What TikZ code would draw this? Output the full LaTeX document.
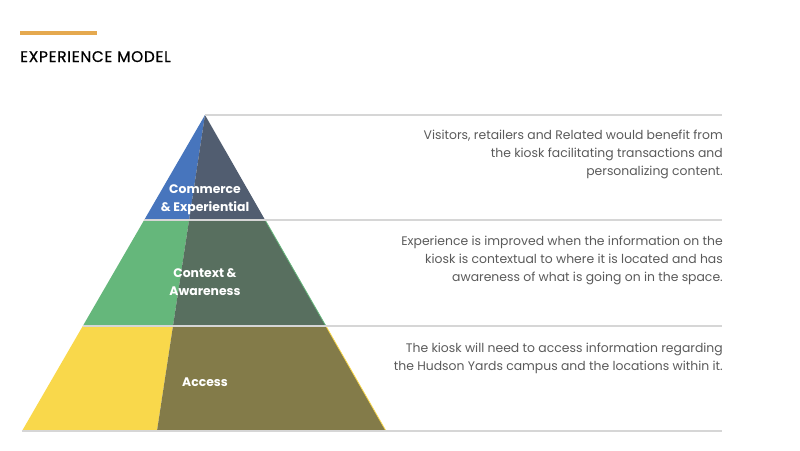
\documentclass[tikz,border=0pt]{standalone}
\usepackage{fontspec}
\setmainfont{Poppins}
\definecolor{barorange}{HTML}{E5A94F}
\definecolor{lblue}{HTML}{4775BD}
\definecolor{dslate}{HTML}{515D70}
\definecolor{lgreen}{HTML}{65B77B}
\definecolor{dgreen}{HTML}{586F5F}
\definecolor{lyellow}{HTML}{F9D84B}
\definecolor{dolive}{HTML}{837B49}
\definecolor{sepgray}{HTML}{D6D6D6}
\definecolor{txtgray}{HTML}{5A5A5A}
\begin{document}
\begin{tikzpicture}[x=1pt,y=-1pt,
  seprule/.style={draw=sepgray,line width=2pt},
  tierlabel/.style={text=white,font=\fontsize{12.4}{17.5}\selectfont\bfseries,align=center,inner sep=0pt},
  desc/.style={text=txtgray,font=\fontsize{12.4}{18}\selectfont,align=right,inner sep=0pt,anchor=north east},
  title/.style={text=black,font=\fontsize{15.4}{16}\selectfont\addfontfeatures{LetterSpace=4.5,FakeBold=0.6},anchor=base west,inner sep=0pt}]
\useasboundingbox (0,0) rectangle (800,450);
% header
\fill[barorange] (20,30.5) rectangle (97,34.5);
\node[title] (ttl) at (20,62) {EXPERIENCE MODEL};
% pyramid geometry
\coordinate (apex) at (205,115);
\coordinate (bl) at (22,431);
\coordinate (br) at (386,431);
\coordinate (mb) at (157,431);
\coordinate (L1) at (144.2,220);
\coordinate (R1) at (265.1,220);
\coordinate (M1) at (189.1,220);
\coordinate (L2) at (82.8,326);
\coordinate (R2) at (325.9,326);
\coordinate (M2) at (173.0,326);
% top tier
\fill[lblue] (apex) -- (L1) -- (M1) -- cycle;
\fill[dslate] (apex) -- (M1) -- (R1) -- cycle;
% middle tier
\fill[lgreen] (L1) -- (L2) -- (M2) -- (M1) -- cycle;
\fill[dgreen] (M1) -- (M2) -- (R2) -- (R1) -- cycle;
\draw[lgreen,line width=0.8pt] (R1) -- (R2);
% bottom tier
\fill[lyellow] (L2) -- (bl) -- (mb) -- (M2) -- cycle;
\fill[dolive] (M2) -- (mb) -- (br) -- (R2) -- cycle;
\draw[lyellow,line width=0.8pt] (R2) -- (br);
% separators
\coordinate (e0) at (722,115);
\coordinate (e1) at (722,220);
\coordinate (e2) at (722,326);
\coordinate (e3) at (722,431);
\draw[seprule] (apex) -- (e0);
\draw[seprule] (L1) -- (e1);
\draw[seprule] (L2) -- (e2);
\draw[seprule] (bl) -- (e3);
% tier labels
\node[tierlabel] (t1) at (205,199.5) {Commerce\\\& Experiential};
\node[tierlabel] (t2) at (205,282) {Context \&\\Awareness};
\node[tierlabel] (t3) at (205,382) {Access};
% descriptions
\node[desc] (d1) at (723,129.5) {Visitors, retailers and Related would benefit from\\the kiosk facilitating transactions and\\personalizing content.};
\node[desc] (d2) at (723,235.5) {Experience is improved when the information on the\\kiosk is contextual to where it is located and has\\awareness of what is going on in the space.};
\node[desc] (d3) at (723,342.5) {The kiosk will need to access information regarding\\the Hudson Yards campus and the locations within it.};
\end{tikzpicture}
\end{document}
